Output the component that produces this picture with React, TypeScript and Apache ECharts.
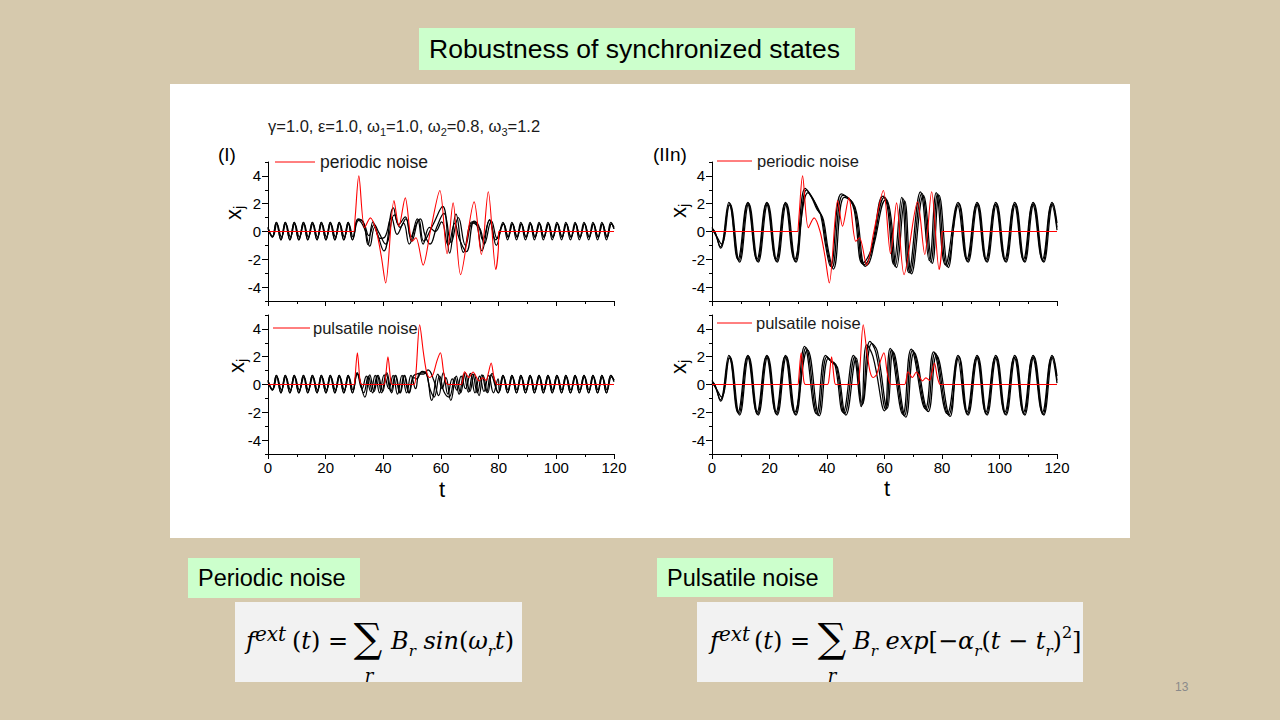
import React, { useEffect, useRef } from 'react';
import * as echarts from 'echarts';

type P = [number, number][];

// ---------- x-axis / y-axis ticks ----------
const xTicksMajor = [0, 20, 40, 60, 80, 100, 120];
const yMajorTicks = [-4, -2, 0, 2, 4];

// ---------- noise signals (red) ----------
const periodicNoise: P = [[0,0],[29.9,0],[30.0,0],[30.3,1.2],[31.5,4.0],[33.5,0.27],[35.5,0.98],[37.6,0.0],[39.3,-1.8],[40.8,-3.7],[43.7,2.23],[45.4,0.38],[47.6,2.42],[50.0,-0.7],[51.3,-0.45],[53.8,-2.42],[56.3,0.0],[59.6,2.95],[62.1,-1.6],[64.2,2.06],[66.8,-3.1],[71.5,2.13],[74.0,-1.65],[76.4,2.86],[79.0,-2.73],[79.9,-1.2],[80.0,0],[80.1,0],[120,0]];
const pulsatileNoise: P = [[0,0],[29.8,0],[30.1,0.3],[31.0,2.28],[31.9,0.3],[32.5,0],[40.1,0],[40.7,0.4],[41.6,2.0],[42.5,0.4],[43.1,0],[50.6,0],[51.3,0.8],[52.6,4.3],[53.9,2.3],[55.0,0.9],[56.0,0.5],[57.2,0.7],[58.6,1.7],[59.8,2.28],[60.9,0.9],[61.8,0.1],[62.5,0],[67.0,0],[67.5,0.3],[68.2,0.92],[69.7,0.5],[71.1,0.9],[73.2,0.26],[74.4,0.48],[75.7,0.3],[76.4,0.8],[77.4,1.55],[78.3,0.6],[79.1,0.05],[79.5,0],[120,0]];

// ---------- panel (I): synchronized small oscillations ----------
const iStartA: P = [[0,0.3],[1.5,-0.4],[2.9,0.65],[4.5,-0.6],[6.0,0.65],[7.6,-0.6],[9.1,0.65],[10.7,-0.6],[12.3,0.65],[13.8,-0.6],[15.4,0.65],[17.0,-0.6],[18.5,0.65],[20.1,-0.6],[21.6,0.65],[23.2,-0.6],[24.7,0.65],[26.3,-0.6],[27.8,0.65],[29.3,-0.6]];
const iStartB: P = [[0,0.2],[1.7,-0.35],[3.1,0.55],[4.7,-0.4],[6.2,0.55],[7.8,-0.4],[9.3,0.55],[10.9,-0.4],[12.5,0.55],[14.0,-0.4],[15.6,0.55],[17.2,-0.4],[18.7,0.55],[20.3,-0.4],[21.8,0.55],[23.4,-0.4],[24.9,0.55],[26.5,-0.4],[28.0,0.55],[29.5,-0.4]];
const iEndA: P = [[81.5,0.65],[83.1,-0.6],[84.6,0.65],[86.2,-0.6],[87.7,0.65],[89.3,-0.6],[90.9,0.65],[92.4,-0.6],[94.0,0.65],[95.5,-0.6],[97.1,0.65],[98.6,-0.6],[100.2,0.65],[101.8,-0.6],[103.3,0.65],[104.9,-0.6],[106.5,0.65],[108.0,-0.6],[109.6,0.65],[111.2,-0.6],[112.7,0.65],[114.3,-0.6],[115.8,0.65],[117.4,-0.6],[118.9,0.65],[120,0.3]];
const iEndB: P = [[81.7,0.55],[83.3,-0.4],[84.8,0.55],[86.4,-0.4],[87.9,0.55],[89.5,-0.4],[91.1,0.55],[92.6,-0.4],[94.2,0.55],[95.7,-0.4],[97.3,0.55],[98.8,-0.4],[100.4,0.55],[102.0,-0.4],[103.5,0.55],[105.1,-0.4],[106.7,0.55],[108.2,-0.4],[109.8,0.55],[111.4,-0.4],[112.9,0.55],[114.5,-0.4],[116.0,0.55],[117.6,-0.4],[119.1,0.55],[120,0.2]];

// perturbed window, periodic noise (I)
const iTopA: P = [[31.2,0.85],[33.0,0.7],[34.7,-0.95],[36.4,0.7],[38.0,-0.2],[40.2,-1.4],[43.5,1.7],[45.3,0.5],[47.6,1.05],[49.8,-0.7],[52.3,0.85],[54.0,-0.7],[57.0,0.4],[60.6,1.8],[63.0,-1.55],[65.2,1.25],[67.8,-1.5],[70.8,0.7],[72.4,0.5],[74.2,-1.4],[76.9,0.85],[79.2,-1.0]];
const iTopB: P = [[31.2,0.9],[33.2,0.6],[35.0,-0.3],[36.8,0.5],[38.5,-0.1],[40.8,-0.9],[43.8,1.2],[45.8,0.3],[47.8,0.9],[49.5,-0.4],[51.8,0.9],[53.8,-0.9],[56.0,0.3],[58.0,0.0],[60.2,0.7],[62.5,-1.0],[64.8,0.6],[66.3,-0.5],[68.8,-1.45],[71.5,0.75],[73.0,0.45],[74.5,-0.6],[76.8,0.8],[79.0,-0.6]];
const iTopC: P = [[31.4,0.8],[33.5,0.2],[35.3,-1.05],[37.0,0.3],[38.8,-0.5],[40.5,-0.4],[42.8,1.0],[44.8,-0.2],[47.0,0.6],[49.0,-0.9],[51.2,0.4],[52.8,0.9],[54.5,-0.3],[56.2,-0.9],[58.5,0.3],[61.0,1.3],[63.5,-0.8],[66.0,1.0],[68.5,-1.0],[71.0,0.6],[73.5,0.2],[75.0,-0.9],[77.5,0.75],[79.5,-0.5]];

// perturbed window, pulsatile noise (I)
const iBotA: P = [[30.9,0.85],[33.6,-0.9],[35.3,0.7],[36.8,-0.5],[38.2,0.65],[39.8,-0.5],[41.2,0.85],[42.9,-0.6],[44.3,0.65],[45.9,-0.6],[47.4,0.65],[49.0,-0.6],[50.6,0.5],[51.5,0.4],[53.5,0.95],[55.0,0.8],[56.8,-1.15],[58.9,0.75],[60.4,-0.3],[61.7,0.5],[63.4,-1.15],[65.3,0.6],[66.8,-0.6],[68.4,0.85],[70.0,-0.5],[71.5,0.75],[73.2,-0.8],[74.6,0.65],[76.2,-0.6],[77.7,0.8],[79.9,-0.6]];
const iBotB: P = [[30.9,0.8],[32.6,-0.3],[34.1,0.6],[35.6,-0.5],[37.2,0.65],[38.7,-0.6],[40.3,0.7],[41.9,-0.3],[43.4,0.65],[44.9,-0.7],[46.5,0.65],[48.1,-0.6],[49.6,0.65],[51.2,-0.3],[52.5,0.75],[54.0,0.75],[55.5,1.05],[57.5,0.3],[59.2,-0.8],[60.8,0.85],[62.4,-0.7],[63.9,0.4],[65.5,-0.4],[67.0,0.6],[68.5,-0.3],[70.2,0.8],[71.8,-0.6],[73.4,0.6],[74.9,-0.5],[76.5,0.65],[78.2,-0.6],[79.8,0.4],[80.3,-0.5]];
const iBotC: P = [[31.0,0.75],[33.2,-0.6],[34.8,0.6],[36.3,-0.6],[37.9,0.65],[39.4,-0.6],[41.0,0.75],[42.6,-0.5],[44.1,0.65],[45.7,-0.6],[47.2,0.65],[48.8,-0.6],[50.4,0.6],[52.3,0.8],[54.3,0.85],[56.3,-0.4],[57.6,-0.9],[59.5,0.6],[61.0,-0.5],[62.8,-0.9],[64.8,0.5],[66.3,-0.7],[67.9,0.75],[69.5,-0.55],[71.0,0.75],[72.6,-0.6],[74.2,0.7],[75.8,-0.55],[77.3,0.7],[79.9,-0.6]];

// ---------- panel (IIn): large oscillations ----------
const iiStartA: P = [[0,0.2],[1.0,0.0],[2.9,-1.1],[5.9,2.1],[9.3,-2.1],[12.5,2.1],[15.8,-2.15],[19.1,2.1],[22.4,-2.15],[25.6,2.1],[28.9,-2.15]];
const iiStartB: P = [[0,0.1],[1.2,-0.2],[3.3,-0.9],[6.2,2.0],[9.6,-2.2],[12.8,2.0],[16.1,-2.2],[19.4,2.0],[22.7,-2.2],[25.9,2.0],[29.2,-2.2]];
const iiStartC: P = [[0,0.3],[1.4,-0.3],[3.0,-1.2],[6.0,1.9],[9.0,-2.0],[12.3,2.0],[15.6,-2.0],[18.9,2.0],[22.2,-2.0],[25.4,2.0],[28.7,-2.0]];
const iiEndA: P = [[85.6,2.1],[88.8,-2.15],[92.2,2.1],[95.4,-2.15],[98.7,2.1],[102.0,-2.15],[105.3,2.1],[108.5,-2.15],[111.7,2.1],[115.1,-2.15],[118.3,2.1],[120,0.3]];
const iiEndB: P = [[85.9,2.0],[89.1,-2.2],[92.5,2.0],[95.7,-2.2],[99.0,2.0],[102.3,-2.2],[105.6,2.0],[108.8,-2.2],[112.0,2.0],[115.4,-2.2],[118.6,2.0],[120,0.6]];
const iiEndC: P = [[85.4,1.9],[88.6,-2.0],[92.0,1.95],[95.2,-2.0],[98.5,1.95],[101.8,-2.0],[105.1,1.95],[108.3,-2.0],[111.5,1.95],[114.9,-2.0],[118.1,1.95],[120,0.1]];

const iiTopA: P = [[32.4,3.1],[34.5,2.5],[36.5,1.6],[37.8,1.2],[39.5,-1.0],[41.2,-2.5],[45.0,2.7],[47.9,2.3],[49.5,1.5],[52.3,-2.3],[53.8,-2.0],[55.5,-1.2],[59.5,2.55],[61.0,1.8],[63.2,-2.35],[66.0,2.45],[68.4,-2.95],[72.5,2.85],[75.6,-2.1],[78.0,2.8],[81.2,-2.4]];
const iiTopB: P = [[32.9,3.0],[35.0,2.4],[37.0,1.5],[38.3,1.0],[40.0,-1.2],[41.7,-2.6],[45.5,2.6],[48.4,2.2],[50.0,1.3],[52.8,-2.4],[54.3,-2.1],[56.0,-1.0],[60.0,2.45],[61.5,1.6],[63.7,-2.5],[66.5,2.35],[68.9,-3.0],[73.0,2.75],[76.1,-2.2],[78.5,2.7],[81.7,-2.5]];
const iiTopC: P = [[33.4,2.8],[35.5,2.2],[37.5,1.4],[38.8,0.8],[40.5,-1.4],[42.2,-2.7],[46.0,2.45],[48.9,2.1],[50.5,1.1],[53.3,-2.5],[54.8,-2.2],[56.5,-0.8],[60.5,2.3],[62.0,1.4],[64.2,-2.6],[67.0,2.2],[69.4,-3.05],[73.5,2.6],[76.6,-2.3],[79.0,2.6],[82.2,-2.6]];

const iiBotA: P = [[32.2,2.75],[36.3,-2.1],[39.5,2.1],[41.2,1.7],[42.7,1.5],[45.6,-2.0],[49.2,2.1],[51.9,-1.6],[53.8,2.85],[56.0,2.0],[60.0,-1.9],[62.0,2.6],[66.4,-2.15],[69.3,2.55],[74.2,-1.75],[77.1,2.35],[81.8,-2.1]];
const iiBotB: P = [[32.7,2.65],[36.8,-2.2],[40.0,2.0],[41.7,1.6],[43.2,1.4],[46.1,-2.1],[49.7,2.0],[52.1,-1.5],[54.9,3.1],[57.0,2.3],[60.5,-1.8],[62.5,2.5],[66.9,-2.25],[69.8,2.45],[74.7,-1.85],[77.6,2.25],[82.3,-2.2]];
const iiBotC: P = [[33.2,2.5],[37.3,-2.25],[40.5,1.9],[42.2,1.5],[43.7,1.2],[46.6,-2.2],[50.2,1.9],[52.3,-1.4],[55.6,2.95],[57.5,2.4],[61.0,-1.7],[63.0,2.35],[67.4,-2.35],[70.3,2.3],[75.2,-1.95],[78.1,2.1],[82.8,-2.3]];

const FF = '"Liberation Sans", Arial, sans-serif';
const MF = '"DejaVu Serif", serif';

function buildOption() {
  const panels = [
    { curves: [[...iStartA, ...iTopA, ...iEndA], [...iStartB, ...iTopB, ...iEndB], [...iStartA, ...iTopC, ...iEndB]], noise: periodicNoise },
    { curves: [[...iStartA, ...iBotA, ...iEndA], [...iStartB, ...iBotB, ...iEndB], [...iStartA, ...iBotC, ...iEndA]], noise: pulsatileNoise },
    { curves: [[...iiStartA, ...iiTopA, ...iiEndA], [...iiStartB, ...iiTopB, ...iiEndB], [...iiStartC, ...iiTopC, ...iiEndC]], noise: periodicNoise },
    { curves: [[...iiStartA, ...iiBotA, ...iiEndA], [...iiStartB, ...iiBotB, ...iiEndB], [...iiStartC, ...iiBotC, ...iiEndC]], noise: pulsatileNoise },
  ];
  const gridPos = [[268, 162, 346], [268, 315, 346], [712, 162, 345], [712, 315, 345]];
  const grid = gridPos.map(([l, t, w]) => ({ left: l, top: t, width: w, height: 139, containLabel: false, outerBoundsMode: 'none' }));
  const xAxis = gridPos.map((_, i) => ({
    type: 'value', gridIndex: i, position: 'bottom', min: xTicksMajor[0], max: xTicksMajor[xTicksMajor.length - 1], interval: 20,
    axisLine: { show: true, onZero: false, lineStyle: { color: '#000', width: 1 } },
    axisTick: { show: true, length: 5, lineStyle: { color: '#000' } },
    minorTick: { show: true, splitNumber: 2, length: 3, lineStyle: { color: '#000' } },
    axisLabel: { show: i % 2 === 1, color: '#000', fontSize: 15, fontFamily: FF, margin: 6 },
    splitLine: { show: false }, minorSplitLine: { show: false },
  }));
  const yAxis: any[] = [];
  gridPos.forEach((_, i) => {
    yAxis.push({
      type: 'value', gridIndex: i, position: 'left', min: -5, max: 5, interval: 1,
      axisLine: { show: true, onZero: false, lineStyle: { color: '#000', width: 1 } },
      axisTick: { show: true, length: 3, lineStyle: { color: '#000' } },
      axisLabel: { color: '#000', fontSize: 15, fontFamily: FF, margin: 7, formatter: (v: number) => (yMajorTicks.indexOf(v) >= 0 ? String(v) : '') },
      splitLine: { show: false },
    });
    yAxis.push({
      type: 'value', gridIndex: i, position: 'left', offset: 0, min: -5, max: 5,
      axisLine: { show: false, onZero: false },
      axisTick: { show: true, length: 6, customValues: yMajorTicks, lineStyle: { color: '#000' } },
      axisLabel: { show: false },
      splitLine: { show: false },
    });
  });
  const series: any[] = [];
  panels.forEach((p, i) => {
    p.curves.forEach((c) => {
      series.push({ type: 'line', xAxisIndex: i, yAxisIndex: 2 * i, data: c, symbol: 'none', showSymbol: false, smooth: 0.45, silent: true, lineStyle: { color: '#000', width: 1.25 }, itemStyle: { color: '#000' }, z: 2 });
    });
    series.push({ type: 'line', xAxisIndex: i, yAxisIndex: 2 * i, data: p.noise, symbol: 'none', showSymbol: false, smooth: 0.3, silent: true, lineStyle: { color: '#ff0000', width: 1.1 }, itemStyle: { color: '#ff0000' }, z: 3 });
  });

  const t = (x: number, y: number, text: string, style: any = {}, extra: any = {}) => ({
    type: 'text', x, y, z: 10, ...extra,
    style: { text, fill: '#000', fontSize: 15, fontFamily: FF, textAlign: 'left', textVerticalAlign: 'middle', ...style },
  });
  const rect = (x: number, y: number, w: number, h: number, fill: string, z = -5) => ({ type: 'rect', z, shape: { x, y, width: w, height: h }, style: { fill } });
  const legendLine = (x1: number, x2: number, y: number) => ({ type: 'line', z: 10, shape: { x1, y1: y, x2, y2: y }, style: { stroke: '#ff0000', lineWidth: 1 } });

  const mi = { fontSize: 24, fontStyle: 'italic', fontFamily: MF, lineHeight: 34 };
  const mn = { fontSize: 24, fontFamily: MF, lineHeight: 34 };
  const msup = { fontSize: 20, fontStyle: 'italic', fontFamily: MF, lineHeight: 17, verticalAlign: 'top' };
  const msub = { fontSize: 15, fontStyle: 'italic', fontFamily: MF, lineHeight: 12, verticalAlign: 'bottom' };
  const mrich = { i: mi, n: mn, sup: msup, sub: msub, supn: { ...msup, fontSize: 16, fontStyle: 'normal' } };

  const xj = (x: number, y: number) => t(x, y, '{x|x}{j|j}', {
    textAlign: 'center',
    rich: { x: { fontSize: 22, fontFamily: FF, lineHeight: 26 }, j: { fontSize: 14, fontFamily: FF, lineHeight: 12, verticalAlign: 'bottom' } },
  }, { rotation: Math.PI / 2 });

  const graphic: any[] = [
    rect(0, 0, 1280, 720, '#d6c9ad', -10),
    rect(170, 84, 960, 454, '#ffffff'),
    rect(419, 28, 436, 42, '#ccffcc'),
    t(429, 49, 'Robustness of synchronized states', { fontSize: 26.5 }),
    rect(188, 558, 172, 40, '#ccffcc'),
    t(198, 578, 'Periodic noise', { fontSize: 23.5 }),
    rect(657, 558, 176, 39, '#ccffcc'),
    t(667, 578, 'Pulsatile noise', { fontSize: 23.5 }),
    rect(235, 602, 287, 80, '#f2f2f2'),
    rect(697, 602, 386, 80, '#f2f2f2'),
    // formula 1
    t(246, 641, '{i|f}{sup|ext}', { rich: mrich }),
    t(292, 641, '{n|(}{i|t}{n|) =}', { rich: mrich }),
    t(368, 638, '∑', { fontSize: 40, lineHeight: 40, fontFamily: MF, textAlign: 'center' }),
    t(369, 675, 'r', { fontSize: 18, lineHeight: 18, fontStyle: 'italic', fontFamily: MF, textAlign: 'center' }),
    t(391, 641, '{i|B}{sub|r}{i| sin}{n|(}{i|ω}{sub|r}{i|t}{n|)}', { rich: mrich }),
    // formula 2
    t(710, 641, '{i|f}{sup|ext}', { rich: mrich }),
    t(754, 641, '{n|(}{i|t}{n|) =}', { rich: mrich }),
    t(832, 638, '∑', { fontSize: 40, lineHeight: 40, fontFamily: MF, textAlign: 'center' }),
    t(832, 675, 'r', { fontSize: 18, lineHeight: 18, fontStyle: 'italic', fontFamily: MF, textAlign: 'center' }),
    t(853, 641, '{i|B}{sub|r}{i| exp}{n|[−}{i|α}{sub|r}{n|(}{i|t}{n| − }{i|t}{sub|r}{n|)}{supn|2}{n|]}', { rich: mrich }),
    t(1175, 687, '13', { fontSize: 12, fill: '#8a8a8a' }),
    // chart annotations
    t(268, 126, 'γ=1.0, ε=1.0, ω{s|1}=1.0, ω{s|2}=0.8, ω{s|3}=1.2', {
      fontSize: 16.5, fill: '#1a1a1a',
      rich: { s: { fontSize: 11, fontFamily: FF, lineHeight: 10, verticalAlign: 'bottom', fill: '#1a1a1a' } },
      lineHeight: 22,
    }),
    t(218, 154, '(I)', { fontSize: 19 }),
    t(653, 154, '(IIn)', { fontSize: 19 }),
    legendLine(275, 315, 162), t(320, 162, 'periodic noise', { fontSize: 17.5, fill: '#1a1a1a' }),
    legendLine(273, 310, 328), t(313, 328, 'pulsatile noise', { fontSize: 16.5, fill: '#1a1a1a' }),
    legendLine(717, 752, 161), t(757, 161, 'periodic noise', { fontSize: 16.5, fill: '#1a1a1a' }),
    legendLine(717, 752, 323), t(756, 323, 'pulsatile noise', { fontSize: 16.5, fill: '#1a1a1a' }),
    xj(233, 213), xj(236, 366), xj(678, 211), xj(678, 367),
    t(442, 489, 't', { fontSize: 22, textAlign: 'center' }),
    t(887, 488, 't', { fontSize: 22, textAlign: 'center' }),
  ];

  return { animation: false, backgroundColor: '#d6c9ad', grid, xAxis, yAxis, series, graphic };
}

export default function App() {
  const ref = useRef<HTMLDivElement>(null);
  useEffect(() => {
    const chart = echarts.init(ref.current!, null, { renderer: 'svg' });
    chart.setOption(buildOption() as any);
    return () => chart.dispose();
  }, []);
  return <div ref={ref} style={{ position: 'fixed', left: 0, top: 0, width: 1280, height: 720 }} />;
}
